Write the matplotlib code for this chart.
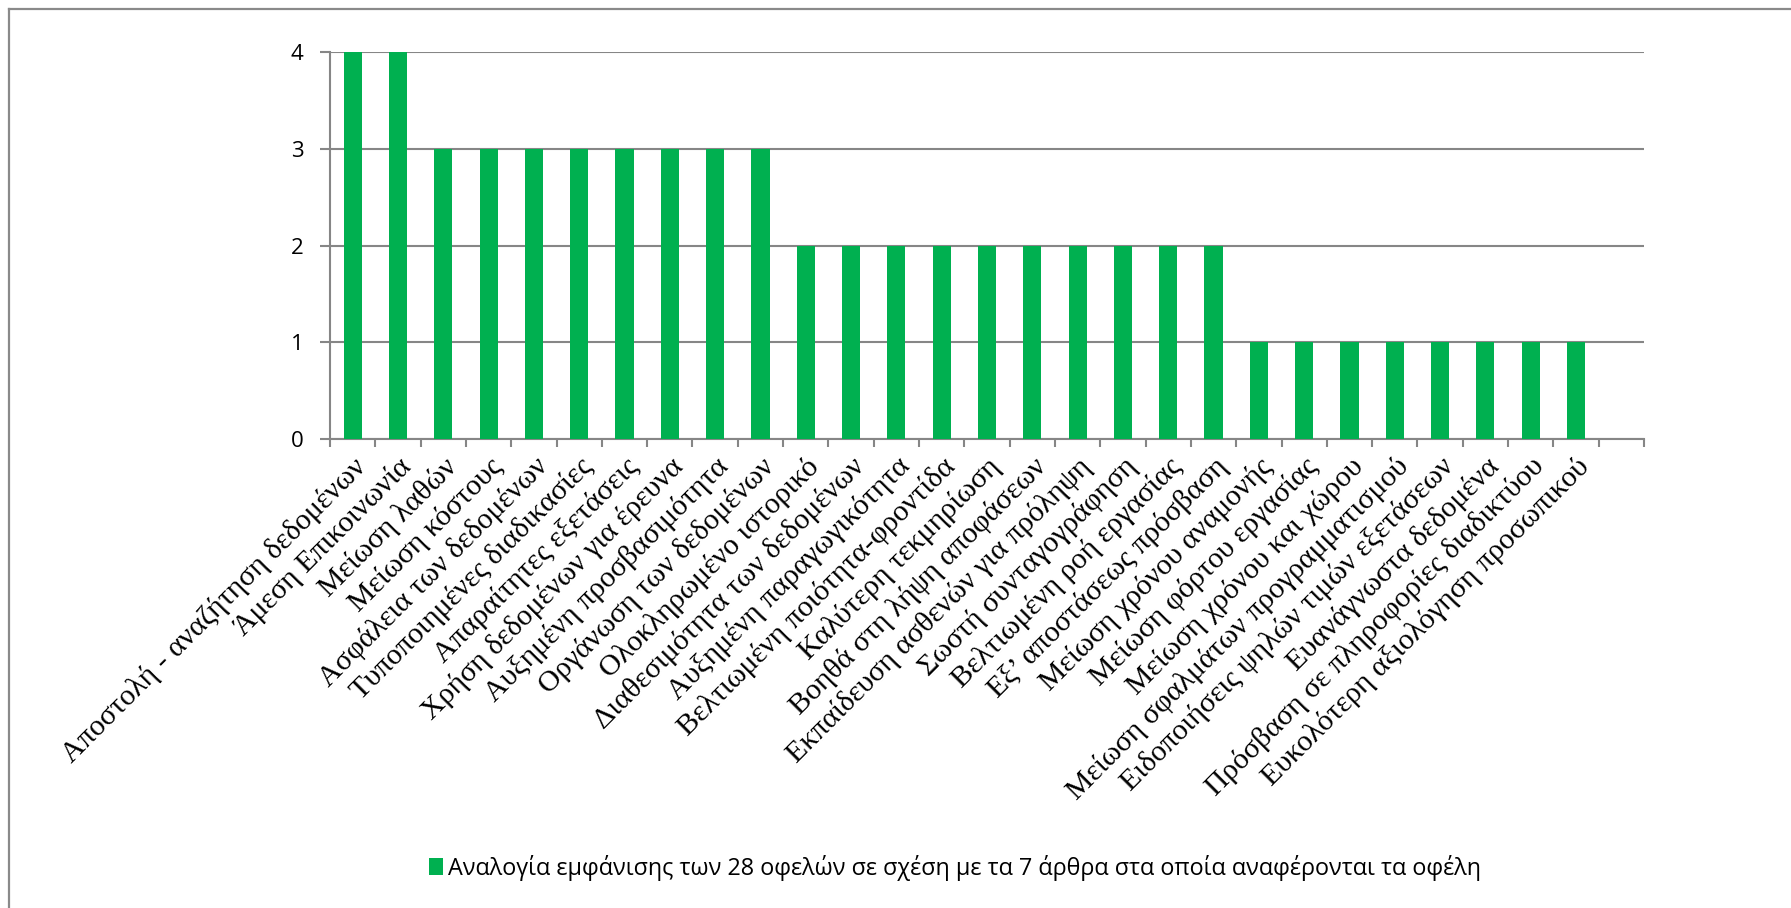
import matplotlib
matplotlib.use("Agg")
import matplotlib.pyplot as plt
from matplotlib.lines import Line2D
import numpy as np

categories = [
    "Αποστολή - αναζήτηση δεδομένων",
    "Άμεση Επικοινωνία",
    "Μείωση λαθών",
    "Μείωση κόστους",
    "Ασφάλεια των δεδομένων",
    "Τυποποιημένες διαδικασίες",
    "Απαραίτητες εξετάσεις",
    "Χρήση δεδομένων για έρευνα",
    "Αυξημένη προσβασιμότητα",
    "Οργάνωση των δεδομένων",
    "Ολοκληρωμένο ιστορικό",
    "Διαθεσιμότητα των δεδομένων",
    "Αυξημένη παραγωγικότητα",
    "Βελτιωμένη ποιότητα-φροντίδα",
    "Καλύτερη τεκμηρίωση",
    "Βοηθά στη λήψη αποφάσεων",
    "Εκπαίδευση ασθενών για πρόληψη",
    "Σωστή συνταγογράφηση",
    "Βελτιωμένη ροή εργασίας",
    "Εξ’ αποστάσεως πρόσβαση",
    "Μείωση χρόνου αναμονής",
    "Μείωση φόρτου εργασίας",
    "Μείωση χρόνου και χώρου",
    "Μείωση σφαλμάτων προγραμματισμού",
    "Ειδοποιήσεις ψηλών τιμών εξετάσεων",
    "Ευανάγνωστα δεδομένα",
    "Πρόσβαση σε πληροφορίες διαδικτύου",
    "Ευκολότερη αξιολόγηση προσωπικού",
]
values = [4, 4, 3, 3, 3, 3, 3, 3, 3, 3,
          2, 2, 2, 2, 2, 2, 2, 2, 2, 2,
          1, 1, 1, 1, 1, 1, 1, 1]
y_ticks = [0, 1, 2, 3, 4]
series_name = "Αναλογία εμφάνισης των 28 οφελών σε σχέση με τα 7 άρθρα στα οποία αναφέρονται τα οφέλη"

GREEN = "#00B050"
GRAY = "#868686"

W, H = 1791, 908
fig = plt.figure(figsize=(W / 100, H / 100), dpi=100)

# outer chart border (left & top visible)
fig.add_artist(Line2D([9 / W, 9 / W], [0, 1 - 9 / H], transform=fig.transFigure,
                      color="#8a8a8a", lw=1.6))
fig.add_artist(Line2D([9 / W, 1], [1 - 9 / H, 1 - 9 / H], transform=fig.transFigure,
                      color="#8a8a8a", lw=1.6))

left, right, top, bottom = 330, 1644, 52, 439
ax = fig.add_axes([left / W, 1 - bottom / H, (right - left) / W, (bottom - top) / H])

n = len(categories)
x = np.arange(n)
ax.bar(x, values, width=0.4, color=GREEN, zorder=3, label=series_name)

ax.set_xlim(-0.5, n + 0.5)
ax.set_ylim(0, 4)
ax.set_yticks(y_ticks)
ax.yaxis.grid(True, color=GRAY, lw=1.5, zorder=0)
ax.set_axisbelow(True)

for s in ["top", "right"]:
    ax.spines[s].set_visible(False)
for s in ["left", "bottom"]:
    ax.spines[s].set_color(GRAY)
    ax.spines[s].set_linewidth(1.5)

# boundary ticks (major) and centered labels (minor)
ax.set_xticks(np.arange(n + 2) - 0.5)
ax.set_xticklabels([])
ax.set_xticks(x, minor=True)
ax.set_xticklabels(categories, minor=True, rotation=45, ha="right",
                   rotation_mode="anchor", fontsize=21.5, family="Liberation Serif")
ax.tick_params(axis="x", which="major", length=6, width=1.5, color=GRAY, direction="out")
ax.tick_params(axis="x", which="minor", length=0, pad=10)
ax.tick_params(axis="y", length=7, width=1.5, color=GRAY, direction="out", pad=12)
for t in ax.get_yticklabels():
    t.set_fontsize(16)
    t.set_family("Open Sans")

leg = fig.legend(loc="center", bbox_to_anchor=(955 / W, 1 - 868 / H), frameon=False,
                 handlelength=0.6, handleheight=0.75, handletextpad=0.25,
                 prop={"family": "Open Sans", "size": 16.8})

fig.savefig("out.png", dpi=100)
